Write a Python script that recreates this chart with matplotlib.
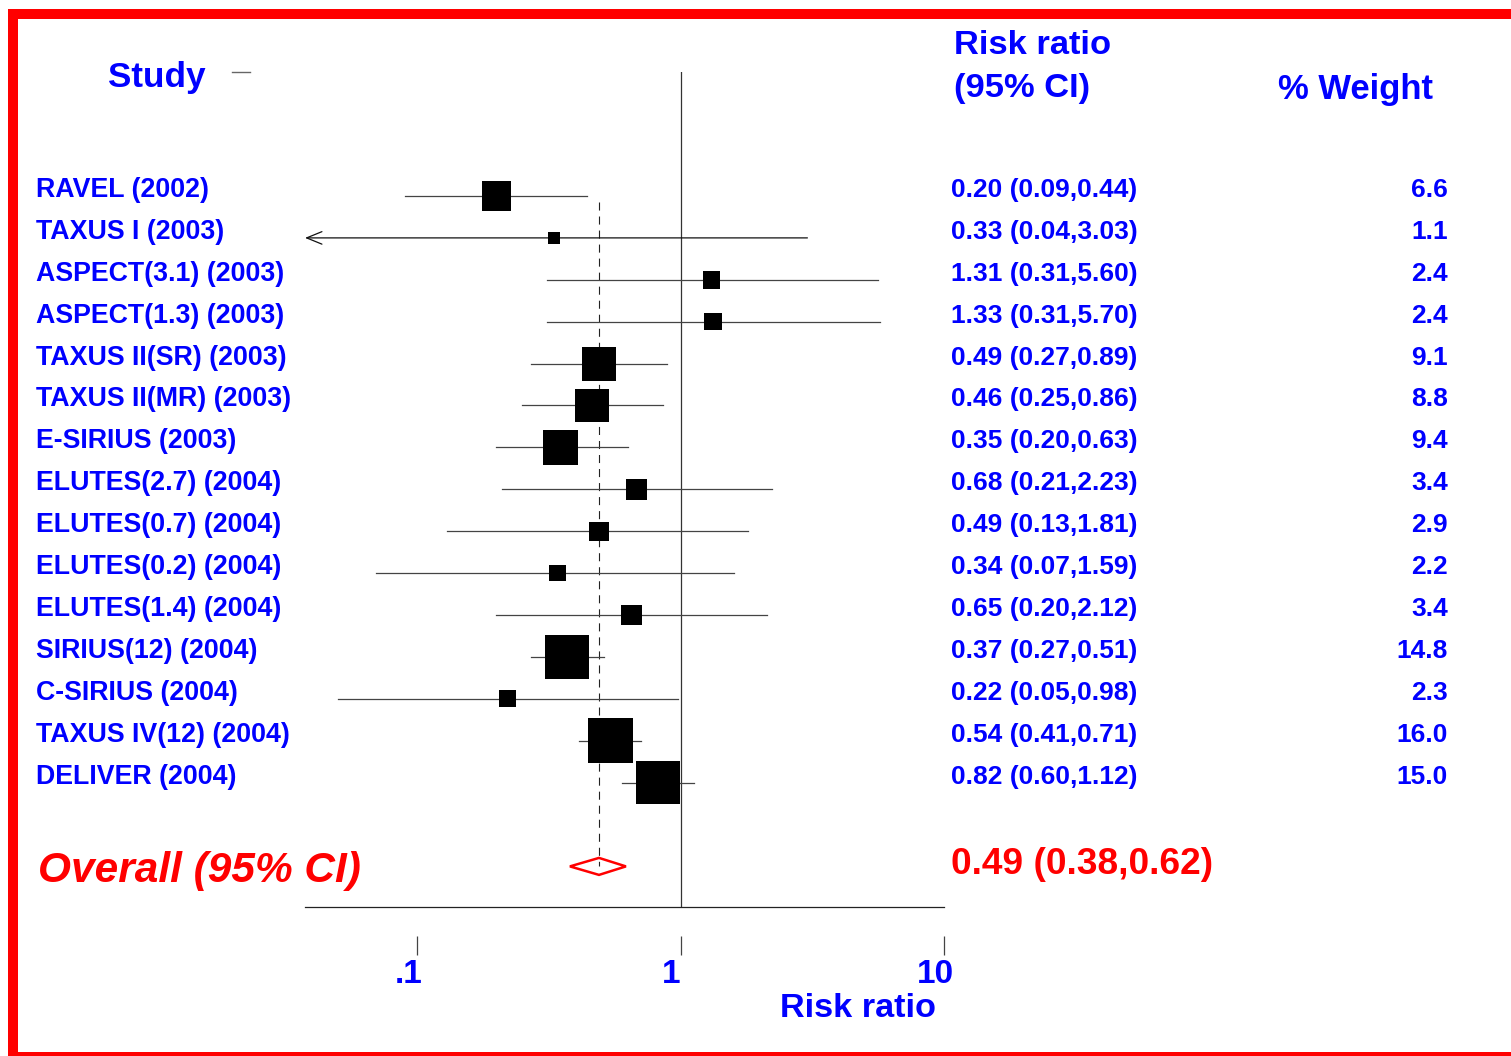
import numpy as np
import matplotlib.pyplot as plt
from matplotlib.patches import Rectangle, Polygon
from matplotlib.lines import Line2D
from matplotlib.ticker import NullLocator, FixedLocator
import matplotlib.transforms as mtransforms

studies = ['RAVEL (2002)', 'TAXUS I (2003)', 'ASPECT(3.1) (2003)', 'ASPECT(1.3) (2003)',
           'TAXUS II(SR) (2003)', 'TAXUS II(MR) (2003)', 'E-SIRIUS (2003)',
           'ELUTES(2.7) (2004)', 'ELUTES(0.7) (2004)', 'ELUTES(0.2) (2004)',
           'ELUTES(1.4) (2004)', 'SIRIUS(12) (2004)', 'C-SIRIUS (2004)',
           'TAXUS IV(12) (2004)', 'DELIVER (2004)']
rr = [0.20, 0.33, 1.31, 1.33, 0.49, 0.46, 0.35, 0.68, 0.49, 0.34, 0.65, 0.37, 0.22, 0.54, 0.82]
lo = [0.09, 0.04, 0.31, 0.31, 0.27, 0.25, 0.20, 0.21, 0.13, 0.07, 0.20, 0.27, 0.05, 0.41, 0.60]
hi = [0.44, 3.03, 5.60, 5.70, 0.89, 0.86, 0.63, 2.23, 1.81, 1.59, 2.12, 0.51, 0.98, 0.71, 1.12]
weight = [6.6, 1.1, 2.4, 2.4, 9.1, 8.8, 9.4, 3.4, 2.9, 2.2, 3.4, 14.8, 2.3, 16.0, 15.0]
overall_rr, overall_lo, overall_hi = 0.49, 0.38, 0.62
xticks = [0.1, 1, 10]
xtick_labels = ['.1', '1', '10']
# CIs whose (rounded) lower limit is at or below this are cut at the axis with an arrow
clip_below = 0.04

plt.rcParams['font.family'] = ['Liberation Sans', 'DejaVu Sans']
plt.rcParams['lines.scale_dashes'] = False

W, H = 1511, 1056
BLUE = '#0000ff'
RED = '#ff0000'

fig = plt.figure(figsize=(W / 100, H / 100), dpi=100)
fig.patch.set_facecolor('white')


def fx(px):
    return px / W


def fy(py):
    return 1 - py / H


# plot area: x from 305 to 944 px, y from 72 to 907 px
ax = fig.add_axes([fx(305), fy(907), fx(944) - fx(305), fy(72) - fy(907)])
ax.set_xscale('log')
ax.set_xlim(0.0375, 10)
row_px = 41.9
ax.set_ylim((907 - 196) / row_px, (72 - 196) / row_px)
ax.patch.set_alpha(0)
for side in ['top', 'right', 'left', 'bottom']:
    ax.spines[side].set_visible(False)
ax.spines['bottom'].set_position(('outward', 29 * 0.72))
ax.yaxis.set_visible(False)
ax.xaxis.set_major_locator(FixedLocator(xticks))
ax.xaxis.set_minor_locator(NullLocator())
ax.tick_params(axis='x', direction='out', length=19 * 0.72, width=0.9, color='#444444',
               labelbottom=False)

n = len(studies)
rows = np.arange(n)
overall_row = 16.0

# axis line and null line
ax.axhline(ax.get_ylim()[0], color='#222222', lw=0.9, clip_on=False)
ax.axvline(1, color='#333333', lw=0.9)

# overall dashed line
ax.plot([overall_rr, overall_rr], [0.15, overall_row], color='#222222', lw=0.8,
        dashes=(5.8, 4.3))

# confidence intervals
xmin = ax.get_xlim()[0]
for i in range(n):
    if lo[i] <= clip_below:
        ax.annotate('', xy=(xmin, rows[i]), xytext=(hi[i], rows[i]),
                    annotation_clip=False,
                    arrowprops=dict(arrowstyle='->,head_length=1.1,head_width=0.45',
                                    color='#111111', lw=0.9, mutation_scale=10,
                                    shrinkA=0, shrinkB=0, clip_on=False))
    else:
        ax.plot([lo[i], hi[i]], [rows[i], rows[i]], color='#444444', lw=0.9)

# weighted boxes
sizes = [66.1 * w for w in weight]
ax.scatter(rr, rows, s=sizes, marker='s', color='black', linewidths=0, zorder=3)

# overall diamond
h = 8.5 / row_px
diamond = Polygon([(overall_lo, overall_row), (overall_rr, overall_row - h),
                   (overall_hi, overall_row), (overall_rr, overall_row + h)],
                  closed=True, fill=False, edgecolor=RED, lw=1.8, zorder=4)
ax.add_patch(diamond)

# tick labels
tr = mtransforms.blended_transform_factory(ax.transData, fig.transFigure)
shift = mtransforms.ScaledTranslation(-9 / 100, 0, fig.dpi_scale_trans)
for t, lab in zip(xticks, xtick_labels):
    ax.text(t, fy(983), lab, transform=tr + shift, ha='center', va='baseline',
            fontsize=24, fontweight='bold', color=BLUE)
fig.text(fx(936), fy(1017), 'Risk ratio', ha='right', va='baseline',
         fontsize=24.7, fontweight='bold', color=BLUE)

# row texts
rt = mtransforms.blended_transform_factory(fig.transFigure, ax.transData)
for i in range(n):
    yb = rows[i] + 1 / row_px
    ax.text(fx(36), yb, studies[i], transform=rt, ha='left', va='baseline',
            fontsize=19.3, fontweight='bold', color=BLUE)
    ax.text(fx(951), yb, f'{rr[i]:.2f} ({lo[i]:.2f},{hi[i]:.2f})', transform=rt,
            ha='left', va='baseline', fontsize=19, fontweight='bold', color=BLUE)
    ax.text(fx(1448), yb, f'{weight[i]:.1f}', transform=rt, ha='right', va='baseline',
            fontsize=19, fontweight='bold', color=BLUE)

# overall texts
fig.text(fx(38), fy(882), 'Overall (95% CI)', ha='left', va='baseline', fontsize=30.5,
         fontweight='bold', fontstyle='italic', color=RED)
fig.text(fx(951), fy(874), f'{overall_rr:.2f} ({overall_lo:.2f},{overall_hi:.2f})',
         ha='left', va='baseline', fontsize=26.7, fontweight='bold', color=RED)

# headers
fig.text(fx(108), fy(87), 'Study', ha='left', va='baseline', fontsize=25.3,
         fontweight='bold', color=BLUE)
fig.add_artist(Line2D([fx(232), fx(250)], [fy(72), fy(72)], color='#666666', lw=1))
fig.text(fx(954), fy(54), 'Risk ratio', ha='left', va='baseline', fontsize=24.8,
         fontweight='bold', color=BLUE)
fig.text(fx(954), fy(97), '(95% CI)', ha='left', va='baseline', fontsize=24.8,
         fontweight='bold', color=BLUE)
fig.text(fx(1278), fy(99), '% Weight', ha='left', va='baseline', fontsize=24.9,
         fontweight='bold', color=BLUE)

# red frame
fig.add_artist(Rectangle((fx(13), fy(1057)), fx(1525) - fx(13), fy(14) - fy(1057),
                         transform=fig.transFigure, fill=False, edgecolor=RED,
                         lw=10 * 0.72, clip_on=False))

fig.savefig('out.png', dpi=100)
